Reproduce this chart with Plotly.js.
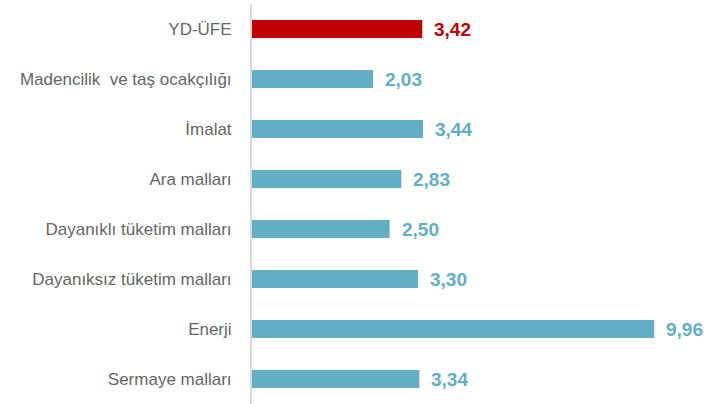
<!DOCTYPE html>
<html>
<head>
<meta charset="utf-8">
<script src="https://cdn.plot.ly/plotly-3.0.1.min.js"></script>
<style>
  body { margin: 0; background: #fff; }
  #plotArea { width: 704px; height: 404px; }
</style>
</head>
<body>
<div id="plotArea"></div>
<script>
// categories, top to bottom
var categories = ["YD-ÜFE", "Madencilik  ve taş ocakçılığı", "İmalat", "Ara malları",
    "Dayanıklı tüketim malları", "Dayanıksız tüketim malları", "Enerji", "Sermaye malları"];
var values = [3.42, 2.03, 3.44, 2.83, 2.50, 3.30, 9.96, 3.34];
var barColors = ["#c00000", "#62aec5", "#62aec5", "#62aec5", "#62aec5", "#62aec5", "#62aec5", "#62aec5"];

// axis does not start at zero in the original, bars grow from the left edge
var xMin = -1.38;
var xMax = 11.25;

var labels = values.map(v => v.toFixed(2).replace(".", ","));

var trace = {
    type: "bar",
    orientation: "h",
    y: categories,
    x: values.map(v => v - xMin),
    base: xMin,
    marker: {color: barColors},
    hoverinfo: "skip"
};

var annotations = values.map(function(v, i){
    return {
        x: v,
        y: categories[i],
        text: "<b>" + labels[i] + "</b>",
        showarrow: false,
        xanchor: "left",
        xshift: 10,
        font: {family: "Liberation Sans, Arial, sans-serif", size: 19, color: barColors[i]}
    };
});

var layout = {
    width: 704,
    height: 404,
    margin: {l: 252, r: 4, t: 4, b: 0},
    paper_bgcolor: "#fff",
    plot_bgcolor: "#fff",
    showlegend: false,
    bargap: 0.64,
    xaxis: {range: [xMin, xMax], visible: false, fixedrange: true},
    yaxis: {
        autorange: "reversed",
        showline: true,
        linecolor: "#d9d9d9",
        linewidth: 2,
        showgrid: false,
        ticks: "",
        ticklabelstandoff: 15,
        tickfont: {family: "Liberation Sans, Arial, sans-serif", size: 17, color: "#666666"}
    },
    annotations: annotations
};

Plotly.newPlot("plotArea", [trace], layout, {displayModeBar: false, staticPlot: true});
</script>
</body>
</html>
